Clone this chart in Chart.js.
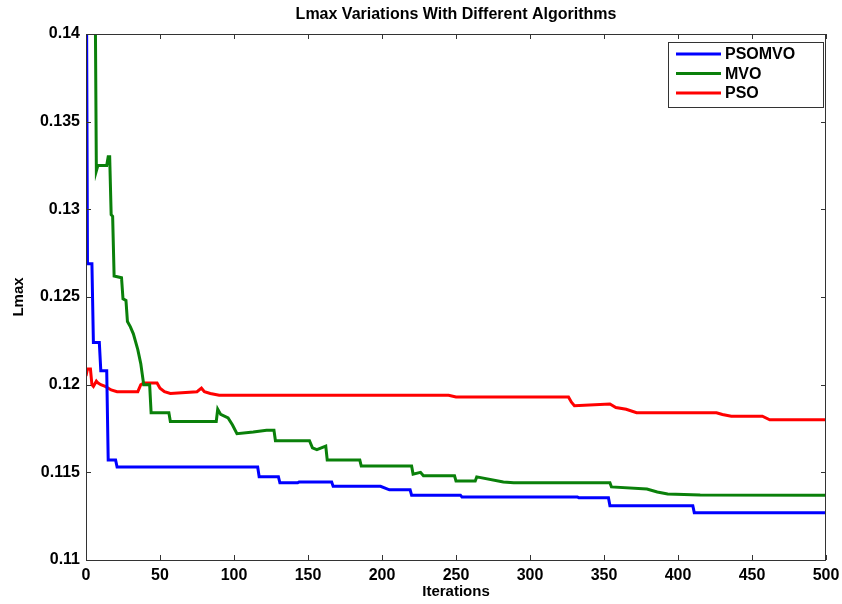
<!DOCTYPE html>
<html>
<head>
<meta charset="utf-8">
<script src="https://cdn.jsdelivr.net/npm/chart.js@4.4.1/dist/chart.umd.min.js"></script>
<style>
  html, body { margin: 0; padding: 0; background: #fff; }
  #wrap { width: 842px; height: 604px; position: relative; }
</style>
</head>
<body>
<div id="wrap"><canvas id="chart"></canvas></div>
<script>
// values (iteration, Lmax) at each step corner
const xTicks = [0, 50, 100, 150, 200, 250, 300, 350, 400, 450, 500];
const yTicks = [0.11, 0.115, 0.12, 0.125, 0.13, 0.135, 0.14];

const psomvoIters = [0, 1, 4, 5, 9, 10, 14, 15, 20, 21, 116, 117, 130, 131, 143, 144, 166, 167, 199, 205, 219, 220, 253, 254, 332, 333, 353, 354, 410, 411, 500];
const psomvoVals  = [0.150, 0.1269, 0.1269, 0.1224, 0.1224, 0.1208, 0.1208, 0.1157, 0.1157, 0.1153, 0.1153, 0.11475, 0.11475, 0.1144, 0.1144, 0.11445, 0.11445, 0.1142, 0.1142, 0.1140, 0.1140, 0.1137, 0.1137, 0.1136, 0.1136, 0.11355, 0.11355, 0.1131, 0.1131, 0.1127, 0.1127];

const mvoIters = [0, 6, 7, 8, 14, 15, 16, 17, 18, 19, 24, 25, 27, 28, 30, 32, 35, 37, 38, 39, 43, 44, 56, 57, 88, 89, 91, 96, 99, 102, 113, 122, 127, 128, 151, 153, 156, 162, 163, 185, 186, 220, 221, 226, 228, 249, 250, 263, 264, 282, 289, 354, 355, 379, 386, 393, 415, 500];
const mvoVals  = [0.160, 0.145, 0.1322, 0.1325, 0.1325, 0.1330, 0.1330, 0.1297, 0.1296, 0.1262, 0.1261, 0.1249, 0.1248, 0.1236, 0.1233, 0.1229, 0.1220, 0.1212, 0.1206, 0.1200, 0.1200, 0.1184, 0.1184, 0.1179, 0.1179, 0.1186, 0.1183, 0.1181, 0.1177, 0.1172, 0.1173, 0.1174, 0.1174, 0.1168, 0.1168, 0.1164, 0.1163, 0.1165, 0.1157, 0.1157, 0.11536, 0.11536, 0.1149, 0.1150, 0.1148, 0.1148, 0.11451, 0.11451, 0.11474, 0.11445, 0.1144, 0.1144, 0.11417, 0.11405, 0.11388, 0.11377, 0.11371, 0.1137];

const psoIters = [0, 1, 3, 4, 5, 7, 8, 10, 13, 17, 21, 35, 37, 39, 48, 50, 53, 57, 75, 78, 80, 84, 90, 131, 245, 250, 326, 328, 330, 354, 358, 365, 372, 426, 430, 436, 457, 462, 470, 500];
const psoVals  = [0.1205, 0.1209, 0.1209, 0.1200, 0.1199, 0.1202, 0.1201, 0.1200, 0.1199, 0.1197, 0.1196, 0.1196, 0.1200, 0.1201, 0.1201, 0.1198, 0.1196, 0.1195, 0.1196, 0.1198, 0.1196, 0.1195, 0.1194, 0.1194, 0.1194, 0.1193, 0.1193, 0.1190, 0.1188, 0.1189, 0.1187, 0.1186, 0.1184, 0.1184, 0.1183, 0.1182, 0.1182, 0.1180, 0.1180, 0.1180];

const seriesNames = ['PSOMVO', 'MVO', 'PSO'];
const seriesColors = ['#0000ff', '#0a800a', '#ff0000'];

const toPoints = (xs, ys) => xs.map((x, i) => ({ x: x, y: ys[i] }));

const FONT = '"Liberation Sans", Arial, sans-serif';

// MATLAB-style frame: box on all four sides, ticks pointing inward, boxed legend
const matlabFrame = {
    id: 'matlabFrame',
    afterDraw(chart) {
        const { ctx, chartArea: a, scales } = chart;
        ctx.save();
        ctx.strokeStyle = '#333';
        ctx.lineWidth = 1;
        ctx.strokeRect(a.left + 0.5, a.top + 0.5, a.right - a.left - 1, a.bottom - a.top);
        const tl = 5;
        ctx.beginPath();
        scales.x.ticks.forEach(t => {
            const px = Math.round(scales.x.getPixelForValue(t.value)) + 0.5;
            ctx.moveTo(px, a.bottom); ctx.lineTo(px, a.bottom - tl);
            ctx.moveTo(px, a.top); ctx.lineTo(px, a.top + tl);
        });
        scales.y.ticks.forEach(t => {
            const py = Math.round(scales.y.getPixelForValue(t.value)) + 0.5;
            ctx.moveTo(a.left, py); ctx.lineTo(a.left + tl, py);
            ctx.moveTo(a.right, py); ctx.lineTo(a.right - tl, py);
        });
        ctx.stroke();

        // title
        ctx.fillStyle = '#000';
        ctx.font = 'bold 16px ' + FONT;
        ctx.textAlign = 'center';
        ctx.textBaseline = 'middle';
        ctx.fillText('Lmax Variations With Different Algorithms', (a.left + a.right) / 2, 15);

        // legend box
        const bw = 155, bh = 65;
        const bx = a.right - bw - 3, by = a.top + 8;
        ctx.fillStyle = '#fff';
        ctx.fillRect(bx, by, bw, bh);
        ctx.strokeStyle = '#333';
        ctx.strokeRect(bx + 0.5, by + 0.5, bw, bh);
        ctx.font = 'bold 16px ' + FONT;
        ctx.textAlign = 'left';
        chart.data.datasets.forEach((ds, i) => {
            const ly = by + 12 + i * 19.5;
            ctx.strokeStyle = ds.borderColor;
            ctx.lineWidth = 3;
            ctx.beginPath();
            ctx.moveTo(bx + 8, ly); ctx.lineTo(bx + 53, ly);
            ctx.stroke();
            ctx.fillStyle = '#000';
            ctx.fillText(ds.label, bx + 57, ly + 1);
        });
        ctx.restore();
    }
};

new Chart(document.getElementById('chart'), {
    type: 'line',
    data: {
        datasets: [
            { label: seriesNames[0], data: toPoints(psomvoIters, psomvoVals), borderColor: seriesColors[0] },
            { label: seriesNames[1], data: toPoints(mvoIters, mvoVals), borderColor: seriesColors[1] },
            { label: seriesNames[2], data: toPoints(psoIters, psoVals), borderColor: seriesColors[2] }
        ].map((ds, i) => Object.assign(ds, {
            borderWidth: 3,
            pointRadius: 0,
            tension: 0,
            fill: false,
            order: i
        }))
    },
    options: {
        responsive: true,
        maintainAspectRatio: false,
        animation: false,
        layout: { padding: { top: 34, right: 16, left: 0, bottom: 0 } },
        plugins: {
            legend: { display: false },
            title: { display: false },
            tooltip: { enabled: false }
        },
        scales: {
            x: {
                type: 'linear',
                min: 0,
                max: 500,
                afterBuildTicks: (s) => { s.ticks = xTicks.map(v => ({ value: v })); },
                afterFit: (s) => { s.height = 44; s.paddingLeft = 0; s.paddingRight = 0; },
                grid: { display: false, drawTicks: false },
                border: { display: false },
                ticks: {
                    padding: 6,
                    color: '#000',
                    font: { family: FONT, size: 16, weight: 'bold' }
                },
                title: {
                    display: true,
                    text: 'Iterations',
                    color: '#000',
                    padding: { top: 0, bottom: 3 },
                    font: { family: FONT, size: 15, weight: 'bold' }
                }
            },
            y: {
                min: 0.11,
                max: 0.14,
                afterBuildTicks: (s) => { s.ticks = yTicks.map(v => ({ value: v })); },
                afterFit: (s) => { s.width = 86; s.paddingTop = 0; s.paddingBottom = 0; },
                grid: { display: false, drawTicks: false },
                border: { display: false },
                ticks: {
                    padding: 6,
                    color: '#000',
                    font: { family: FONT, size: 16, weight: 'bold' },
                    callback: (v) => String(Number(v.toFixed(3)))
                },
                title: {
                    display: true,
                    text: 'Lmax',
                    color: '#000',
                    padding: { top: 10, bottom: 0 },
                    font: { family: FONT, size: 15, weight: 'bold' }
                }
            }
        }
    },
    plugins: [matlabFrame]
});
</script>
</body>
</html>
